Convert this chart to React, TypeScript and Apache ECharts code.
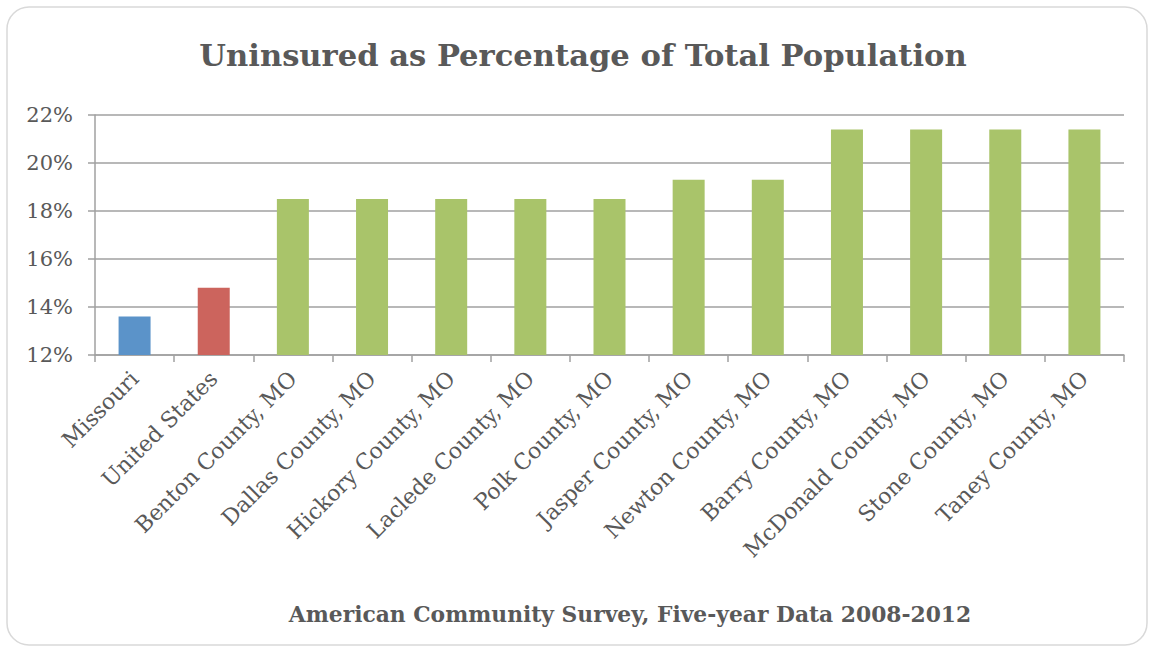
import React, { useEffect, useRef } from "react";
import * as echarts from "echarts";

const categories = [
  "Missouri",
  "United States",
  "Benton County, MO",
  "Dallas County, MO",
  "Hickory County, MO",
  "Laclede County, MO",
  "Polk County, MO",
  "Jasper County, MO",
  "Newton County, MO",
  "Barry County, MO",
  "McDonald County, MO",
  "Stone County, MO",
  "Taney County, MO",
];
const values = [13.6, 14.8, 18.5, 18.5, 18.5, 18.5, 18.5, 19.3, 19.3, 21.4, 21.4, 21.4, 21.4];
const barColors = [
  "#5b93c9", "#cc645d", "#a9c46a", "#a9c46a", "#a9c46a", "#a9c46a", "#a9c46a",
  "#a9c46a", "#a9c46a", "#a9c46a", "#a9c46a", "#a9c46a", "#a9c46a",
];
const yMin = 12;
const yMax = 22;
const yStep = 2;
const titleText = "Uninsured as Percentage of Total Population";
const sourceText = "American Community Survey, Five-year Data 2008-2012";

const FONT = "'DejaVu Serif', 'Liberation Serif', serif";

export default function App() {
  const ref = useRef<HTMLDivElement>(null);
  useEffect(() => {
    if (!ref.current) return;
    const chart = echarts.init(ref.current, null, { renderer: "svg" });
    chart.setOption({
      animation: false,
      backgroundColor: "#ffffff",
      grid: { left: 95, right: 30, top: 115, bottom: 297, containLabel: false },
      graphic: [
        {
          type: "rect",
          shape: { x: 7, y: 7, width: 1140, height: 638, r: 22 },
          style: { fill: "none", stroke: "#d9d9d9", lineWidth: 1.5 },
          silent: true,
        },
        {
          type: "text",
          x: 583,
          y: 55,
          style: {
            text: titleText,
            font: "bold 30.6px " + FONT,
            fill: "#595959",
            textAlign: "center",
            textVerticalAlign: "middle",
          },
        },
        {
          type: "text",
          x: 630,
          y: 614,
          style: {
            text: sourceText,
            font: "bold 21.8px " + FONT,
            fill: "#595959",
            textAlign: "center",
            textVerticalAlign: "middle",
          },
        },
      ],
      xAxis: {
        type: "category",
        data: categories,
        boundaryGap: true,
        axisLine: { show: true, lineStyle: { color: "#a0a0a0", width: 1.5 } },
        axisTick: { show: true, length: 7, lineStyle: { color: "#a0a0a0", width: 1.5 } },
        axisLabel: {
          rotate: 45,
          interval: 0,
          color: "#595959",
          fontFamily: FONT,
          fontSize: 22,
          margin: 20,
        },
      },
      yAxis: {
        type: "value",
        min: yMin,
        max: yMax,
        interval: yStep,
        axisLine: { show: true, lineStyle: { color: "#a0a0a0", width: 1.5 } },
        axisTick: { show: true, length: 7, lineStyle: { color: "#a0a0a0", width: 1.5 } },
        splitLine: { show: true, lineStyle: { color: "#a0a0a0", width: 1.5 } },
        axisLabel: {
          formatter: "{value}%",
          color: "#595959",
          fontFamily: FONT,
          fontSize: 21,
          margin: 22,
        },
      },
      series: [
        {
          type: "bar",
          barWidth: 32,
          data: values.map((v, i) => ({ value: v, itemStyle: { color: barColors[i] } })),
        },
      ],
    });
    return () => chart.dispose();
  }, []);
  return (
    <div
      ref={ref}
      style={{ position: "fixed", left: 0, top: 0, width: 1154, height: 652, background: "#fff" }}
    />
  );
}
